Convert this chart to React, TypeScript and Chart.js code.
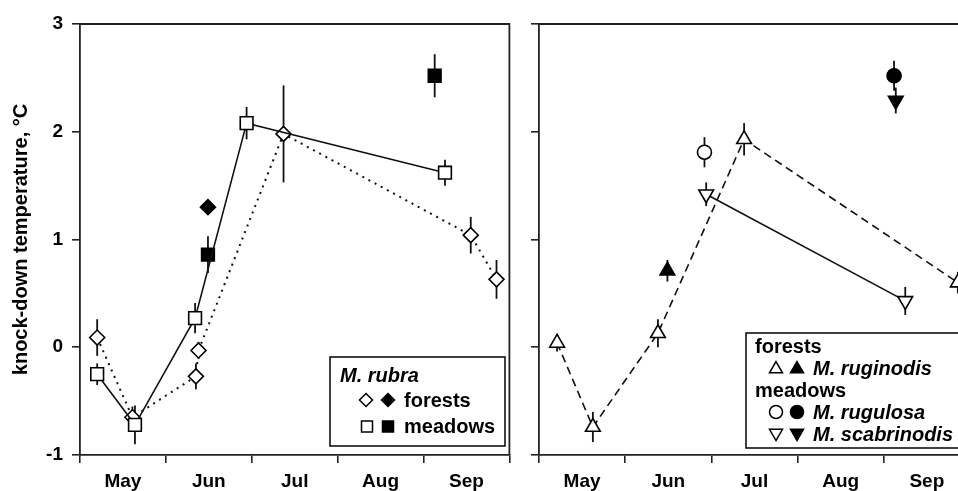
import { useEffect, useRef } from 'react';
import { Chart, registerables } from 'chart.js';

Chart.register(...registerables);

// ---------- axes ----------
const monthLabels = ['May', 'Jun', 'Jul', 'Aug', 'Sep'];
const monthCenters = [0.5, 1.5, 2.5, 3.5, 4.5];
const yTicks = [-1, 0, 1, 2, 3];
const yTitle = 'knock-down temperature, °C';

// ---------- left panel: M. rubra ----------
const rubraForestX = [0.2, 0.61, 1.35, 1.38, 2.37, 4.55, 4.85];
const rubraForestY = [0.09, -0.65, -0.27, -0.03, 1.98, 1.04, 0.63];
const rubraForestErr = [0.17, 0.1, 0.12, 0.08, 0.45, 0.17, 0.18];

const rubraForestFilledX = [1.49];
const rubraForestFilledY = [1.3];
const rubraForestFilledErr = [0.07];

const rubraMeadowX = [0.2, 0.64, 1.34, 1.94, 4.25];
const rubraMeadowY = [-0.25, -0.72, 0.27, 2.08, 1.62];
const rubraMeadowErr = [0.1, 0.18, 0.14, 0.15, 0.12];

const rubraMeadowFilledX = [1.49, 4.13];
const rubraMeadowFilledY = [0.86, 2.52];
const rubraMeadowFilledErr = [0.17, 0.2];

// ---------- right panel ----------
const ruginodisX = [0.21, 0.625, 1.38, 2.38, 4.86];
const ruginodisY = [0.04, -0.74, 0.13, 1.93, 0.6];
const ruginodisErr = [0.08, 0.14, 0.13, 0.15, 0.1];

const ruginodisFilledX = [1.49];
const ruginodisFilledY = [0.71];
const ruginodisFilledErr = [0.1];

const rugulosaX = [1.92];
const rugulosaY = [1.81];
const rugulosaErr = [0.14];

const rugulosaFilledX = [4.12];
const rugulosaFilledY = [2.52];
const rugulosaFilledErr = [0.14];

const scabrinodisX = [1.94, 4.25];
const scabrinodisY = [1.42, 0.43];
const scabrinodisErr = [0.11, 0.13];

const scabrinodisFilledX = [4.14];
const scabrinodisFilledY = [2.29];
const scabrinodisFilledErr = [0.12];

// ---------- styling ----------
const FAMILY = "'Liberation Sans', Arial, Helvetica, sans-serif";
const INK = '#111';

type MarkerStyle = 'circle' | 'rect' | 'rectRot' | 'triangle' | 'triangleDown';

function series(
  xs: number[],
  ys: number[],
  errs: number[],
  style: MarkerStyle,
  filled: boolean,
  line: 'none' | 'solid' | 'dotted' | 'dashed'
) {
  const radius: Record<MarkerStyle, number> = {
    circle: 7,
    rect: 9,
    rectRot: 7.5,
    triangle: 8.5,
    triangleDown: 8.5,
  };
  const dash = line === 'dotted' ? [2, 5] : line === 'dashed' ? [8, 5] : [];
  return {
    data: xs.map((x, i) => ({ x, y: ys[i] })),
    errors: errs,
    showLine: line !== 'none',
    borderColor: INK,
    borderWidth: line === 'dotted' ? 2 : 1.6,
    borderDash: dash,
    tension: 0,
    pointStyle: style === 'triangleDown' ? 'triangle' : style,
    pointRotation: style === 'triangleDown' ? 180 : 0,
    pointRadius: radius[style],
    pointHoverRadius: radius[style],
    pointBackgroundColor: filled ? '#000' : '#fff',
    pointBorderColor: '#000',
    pointBorderWidth: 1.6,
  };
}

const errorBarPlugin = {
  id: 'errorBars',
  beforeDatasetsDraw(chart: any) {
    const { ctx, scales } = chart;
    const x = scales.x;
    const y = scales.y;
    ctx.save();
    ctx.strokeStyle = INK;
    ctx.lineWidth = 1.8;
    chart.data.datasets.forEach((ds: any) => {
      const errs: number[] | undefined = ds.errors;
      if (!errs) return;
      ds.data.forEach((p: any, j: number) => {
        const e = errs[j];
        const px = x.getPixelForValue(p.x);
        ctx.beginPath();
        ctx.moveTo(px, y.getPixelForValue(p.y - e));
        ctx.lineTo(px, y.getPixelForValue(p.y + e));
        ctx.stroke();
      });
    });
    ctx.restore();
  },
};

const framePlugin = {
  id: 'frame',
  afterDraw(chart: any) {
    const { ctx, chartArea } = chart;
    const { left, top, right, bottom } = chartArea;
    ctx.save();
    ctx.strokeStyle = '#222';
    ctx.lineWidth = 1.8;
    ctx.beginPath();
    ctx.moveTo(left, top);
    ctx.lineTo(right, top);
    ctx.lineTo(right, bottom);
    ctx.stroke();
    ctx.restore();
  },
};

function drawMarker(
  ctx: CanvasRenderingContext2D,
  style: MarkerStyle,
  x: number,
  y: number,
  r: number,
  filled: boolean
) {
  ctx.beginPath();
  const s60 = Math.sin(Math.PI / 3);
  switch (style) {
    case 'circle':
      ctx.arc(x, y, r, 0, Math.PI * 2);
      break;
    case 'rect':
      ctx.rect(x - r, y - r, 2 * r, 2 * r);
      break;
    case 'rectRot':
      ctx.moveTo(x, y - r);
      ctx.lineTo(x + r, y);
      ctx.lineTo(x, y + r);
      ctx.lineTo(x - r, y);
      break;
    case 'triangle':
      ctx.moveTo(x, y - r);
      ctx.lineTo(x + r * s60, y + r / 2);
      ctx.lineTo(x - r * s60, y + r / 2);
      break;
    case 'triangleDown':
      ctx.moveTo(x, y + r);
      ctx.lineTo(x + r * s60, y - r / 2);
      ctx.lineTo(x - r * s60, y - r / 2);
      break;
  }
  ctx.closePath();
  ctx.fillStyle = filled ? '#000' : '#fff';
  ctx.fill();
  ctx.lineWidth = 1.5;
  ctx.strokeStyle = '#000';
  ctx.stroke();
}

type LegendMarker = { style: MarkerStyle; filled: boolean; x: number; r: number };
type LegendRow = { label: string; italic?: boolean; textX: number; baseline: number; markers?: LegendMarker[]; markerDy?: number };
type LegendBox = { dx: number; dy: number; w: number; h: number };

function makeLegendPlugin(box: LegendBox, rows: LegendRow[]) {
  return {
    id: 'boxLegend',
    afterDraw(chart: any) {
      const { ctx, chartArea } = chart;
      const bx = chartArea.left + box.dx;
      const by = chartArea.top + box.dy;
      ctx.save();
      ctx.fillStyle = '#fff';
      ctx.fillRect(bx, by, box.w, box.h);
      ctx.strokeStyle = '#111';
      ctx.lineWidth = 1.6;
      ctx.strokeRect(bx, by, box.w, box.h);
      rows.forEach((row) => {
        (row.markers || []).forEach((m) => {
          drawMarker(ctx, m.style, bx + m.x, by + row.baseline - (row.markerDy ?? 7), m.r, m.filled);
        });
        ctx.fillStyle = '#000';
        ctx.textBaseline = 'alphabetic';
        ctx.textAlign = 'left';
        ctx.font = `${row.italic ? 'italic ' : ''}bold 20px ${FAMILY}`;
        ctx.fillText(row.label, bx + row.textX, by + row.baseline);
      });
      ctx.restore();
    },
  };
}

function makeOptions(showYLabels: boolean, yWidth: number, padRight: number) {
  const tickFont = { family: FAMILY, size: 19, weight: 'bold' as const };
  return {
    animation: false as const,
    responsive: false,
    events: [] as any[],
    layout: { padding: { top: 24, right: padRight, bottom: 0, left: 0 } },
    plugins: { legend: { display: false }, tooltip: { enabled: false } },
    scales: {
      x: {
        type: 'linear' as const,
        min: 0,
        max: 5,
        afterBuildTicks: (axis: any) => {
          axis.ticks = monthCenters.map((v) => ({ value: v }));
        },
        afterFit: (axis: any) => {
          axis.height = 36;
        },
        ticks: {
          callback: (_v: any, i: number) => monthLabels[i],
          font: tickFont,
          color: '#000',
          padding: 7,
          maxRotation: 0,
          autoSkip: false,
        },
        grid: {
          display: true,
          drawOnChartArea: false,
          drawTicks: true,
          tickLength: 8,
          offset: true,
          color: '#222',
          lineWidth: 1.6,
        },
        border: { display: true, color: '#222', width: 1.8 },
      },
      y: {
        type: 'linear' as const,
        min: -1,
        max: 3,
        afterBuildTicks: (axis: any) => {
          axis.ticks = yTicks.map((v) => ({ value: v }));
        },
        afterFit: (axis: any) => {
          axis.width = yWidth;
        },
        ticks: {
          display: showYLabels,
          font: tickFont,
          color: '#000',
          padding: 9,
        },
        grid: {
          display: true,
          drawOnChartArea: false,
          drawTicks: true,
          tickLength: 8,
          color: '#222',
          lineWidth: 1.6,
        },
        border: { display: true, color: '#222', width: 1.8 },
        title: {
          display: showYLabels,
          text: yTitle,
          color: '#000',
          font: { family: FAMILY, size: 20, weight: 'bold' as const },
          padding: { top: 9, bottom: 0 },
        },
      },
    },
  };
}

export default function App() {
  const leftRef = useRef<HTMLCanvasElement>(null);
  const rightRef = useRef<HTMLCanvasElement>(null);

  useEffect(() => {
    const leftLegend = makeLegendPlugin({ dx: 250, dy: 333, w: 175, h: 89 }, [
      { label: 'M. rubra', italic: true, textX: 10, baseline: 25 },
      {
        label: 'forests',
        textX: 74,
        baseline: 50,
        markers: [
          { style: 'rectRot', filled: false, x: 36, r: 6.5 },
          { style: 'rectRot', filled: true, x: 58, r: 6.5 },
        ],
      },
      {
        label: 'meadows',
        textX: 74,
        baseline: 76,
        markerDy: 6.5,
        markers: [
          { style: 'rect', filled: false, x: 37, r: 5.5 },
          { style: 'rect', filled: true, x: 58, r: 5.5 },
        ],
      },
    ]);

    const rightLegend = makeLegendPlugin({ dx: 207, dy: 309, w: 217, h: 115 }, [
      { label: 'forests', textX: 9, baseline: 20 },
      {
        label: 'M. ruginodis',
        italic: true,
        textX: 67,
        baseline: 42,
        markerDy: 6,
        markers: [
          { style: 'triangle', filled: false, x: 30, r: 7.5 },
          { style: 'triangle', filled: true, x: 51, r: 7.5 },
        ],
      },
      { label: 'meadows', textX: 9, baseline: 64 },
      {
        label: 'M. rugulosa',
        italic: true,
        textX: 67,
        baseline: 86,
        markers: [
          { style: 'circle', filled: false, x: 30, r: 6.5 },
          { style: 'circle', filled: true, x: 51, r: 6.5 },
        ],
      },
      {
        label: 'M. scabrinodis',
        italic: true,
        textX: 67,
        baseline: 108,
        markerDy: 8,
        markers: [
          { style: 'triangleDown', filled: false, x: 30, r: 7.5 },
          { style: 'triangleDown', filled: true, x: 51, r: 7.5 },
        ],
      },
    ]);

    const left = new Chart(leftRef.current as HTMLCanvasElement, {
      type: 'scatter',
      data: {
        datasets: [
          series(rubraMeadowX, rubraMeadowY, rubraMeadowErr, 'rect', false, 'solid'),
          series(rubraForestX, rubraForestY, rubraForestErr, 'rectRot', false, 'dotted'),
          series(rubraMeadowFilledX, rubraMeadowFilledY, rubraMeadowFilledErr, 'rect', true, 'none'),
          series(rubraForestFilledX, rubraForestFilledY, rubraForestFilledErr, 'rectRot', true, 'none'),
        ] as any,
      },
      options: makeOptions(true, 80, 8) as any,
      plugins: [errorBarPlugin, framePlugin, leftLegend],
    });

    const right = new Chart(rightRef.current as HTMLCanvasElement, {
      type: 'scatter',
      data: {
        datasets: [
          series(scabrinodisX, scabrinodisY, scabrinodisErr, 'triangleDown', false, 'solid'),
          series(ruginodisX, ruginodisY, ruginodisErr, 'triangle', false, 'dashed'),
          series(rugulosaX, rugulosaY, rugulosaErr, 'circle', false, 'none'),
          series(ruginodisFilledX, ruginodisFilledY, ruginodisFilledErr, 'triangle', true, 'none'),
          series(rugulosaFilledX, rugulosaFilledY, rugulosaFilledErr, 'circle', true, 'none'),
          series(scabrinodisFilledX, scabrinodisFilledY, scabrinodisFilledErr, 'triangleDown', true, 'none'),
        ] as any,
      },
      options: makeOptions(false, 19, 9) as any,
      plugins: [errorBarPlugin, framePlugin, rightLegend],
    });

    return () => {
      left.destroy();
      right.destroy();
    };
  }, []);

  return (
    <div
      style={{
        position: 'fixed',
        left: 0,
        top: 0,
        width: 958,
        height: 491,
        overflow: 'hidden',
        background: '#fff',
      }}
    >
      <canvas ref={leftRef} width={520} height={491} style={{ position: 'absolute', left: 0, top: 0 }} />
      <canvas ref={rightRef} width={460} height={491} style={{ position: 'absolute', left: 520, top: 0 }} />
    </div>
  );
}
